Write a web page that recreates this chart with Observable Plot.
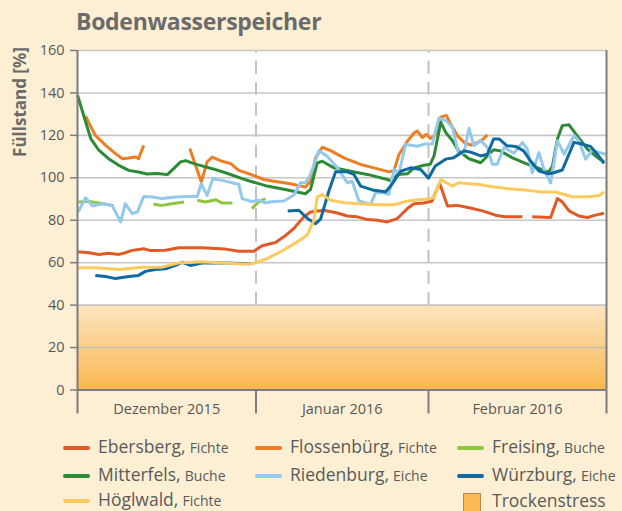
<!DOCTYPE html>
<html>
<head>
<meta charset="utf-8">
<script src="https://cdn.jsdelivr.net/npm/d3@7"></script>
<script src="https://cdn.jsdelivr.net/npm/@observablehq/plot@0.6"></script>
<style>
html, body { margin: 0; padding: 0; background: #fdefd3; }
#wrap { position: relative; width: 622px; height: 511px; overflow: hidden; background: #fdefd3; font-family: "Open Sans", sans-serif; color: #585858; }
#chart { position: absolute; left: 0; top: 0; }
#title { position: absolute; left: 76px; top: 6px; font-size: 23px; font-weight: 700; color: #6b6b6b; line-height: 30px; white-space: nowrap; letter-spacing: -0.3px; }
#ylabel { position: absolute; left: 19px; top: 102px; transform: translate(-50%, -50%) rotate(-90deg); font-size: 17px; font-weight: 700; color: #6b6b6b; white-space: nowrap; }
.item { position: absolute; height: 20px; line-height: 20px; white-space: nowrap; }
.sw { display: inline-block; width: 27px; height: 4px; border-radius: 2px; vertical-align: middle; margin-right: 8px; position: relative; top: -1px; }
.big { font-size: 17.5px; color: #5a5a5a; }
.small { font-size: 14px; color: #5a5a5a; }
.box { display: inline-block; width: 16px; height: 20px; vertical-align: middle; margin: 0 11px 0 6px; border: 1px solid #b98a4a; background: #fbb855; position: relative; top: 1px; }
</style>
</head>
<body>
<div id="wrap">
  <div id="chart"></div>
  <div id="title">Bodenwasserspeicher</div>
  <div id="ylabel">Füllstand [%]</div>
  <div id="legend"></div>
</div>
<script>
// ---- data (x = days since 1 Dec 2015, y = Füllstand %) ----
const seriesNames = ["Ebersberg", "Flossenbürg", "Freising", "Mitterfels", "Riedenburg", "Würzburg", "Höglwald"];
const treeTypes = ["Fichte", "Fichte", "Buche", "Buche", "Eiche", "Eiche", "Fichte"];
const seriesColors = ["#e05a26", "#ee7e22", "#8dc641", "#2d8a36", "#92c9ec", "#10699f", "#fdca5e"];
const monthLabels = ["Dezember 2015", "Januar 2016", "Februar 2016"];
const monthEdges = [0, 31, 62, 91];
const yTicks = [0, 20, 40, 60, 80, 100, 120, 140, 160];
const trockenstress = [{lower: 0, upper: 40, label: "Trockenstress"}];

const ebersberg = [[0,65.2],[2,64.7],[3.7,63.9],[5.4,64.5],[7.2,63.9],[8.3,64.7],[9.5,65.8],[11.5,66.6],[12.7,65.7],[15.3,65.9],[17.6,67],[21.6,67],[25.7,66.4],[28,65.4],[30.6,65.4],[32.1,68],[34.5,69.5],[36,72.2],[37.8,76.1],[39.6,81.6],[40.8,83.9],[43.2,84.7],[45.6,83.4],[47.4,82],[49.2,81.6],[51,80.3],[52.8,80],[54.6,79.2],[56.4,80.8],[58.2,85.5],[59.4,87.8],[61.2,88.1],[62.6,89.1],[63.8,97.5],[65.1,86.7],[66.7,87],[68.6,85.9],[70.8,84.4],[72.9,82.4],[74.5,81.7],[77.3,81.7],[78.1,null],[78.9,81.7],[81.9,81.3],[83,90.2],[83.8,88.6],[84.9,84.4],[86.5,82],[87.9,81.3],[89.2,82.4],[90.6,83.3]];
const flossenbuerg = [[1.4,129],[3.1,120],[4.9,115.3],[6.6,111.4],[7.8,109],[8.9,109.3],[10.1,109.8],[10.6,109],[11.5,115.3],[15,null],[19.5,113.8],[21.5,98],[22.5,107.5],[23.4,109.8],[25.1,107.8],[26.6,106.7],[28,103.5],[29.7,102],[32.4,99.2],[34.8,98.1],[37.2,97.2],[39.9,95.6],[40.8,98.5],[41.7,109.4],[42.9,114.4],[44.4,112.8],[46.8,109.4],[49.8,106.3],[52.2,104.7],[54.9,102.8],[55.8,103.5],[56.7,111],[58.2,117.2],[59.4,121.1],[60,122],[60.9,119],[61.6,120.5],[62.3,118.5],[63.1,119.9],[64,128.6],[64.9,129.4],[65.6,125.4],[66.7,119.9],[67.8,116.7],[68.9,115.4],[70,116.7],[70.8,118],[71.6,120.2]];
const freising = [[0.2,88.6],[2,88.9],[3.7,88.1],[6,87],[6.3,87],[9,null],[13.2,87.5],[14.7,87],[16.4,87.8],[18.5,88.6],[19.5,null],[20.8,89.4],[22.2,88.6],[24,89.7],[25.1,88.1],[26.9,88.1],[28,null],[30.3,85.5],[31.4,88.5],[32.7,90.2]];
const mitterfels = [[0,138.9],[2.3,118.5],[3.7,113],[5.4,109],[7.1,106],[8.9,103.5],[10.6,102.7],[12.1,101.8],[13.8,102],[15.6,101.5],[16.7,104.3],[17.9,107.5],[18.8,108.1],[20.2,106.7],[21.6,105.6],[23.4,104.3],[25.7,102.4],[28.6,99.6],[30,98.4],[33,96.1],[36,94.6],[38.4,93.3],[39.9,92.5],[40.8,94.6],[42,107],[42.9,107.8],[45,104.7],[48,103.1],[51,101.6],[54.6,99.2],[55.5,98.4],[56.4,101.6],[58.2,101.9],[59.4,104.7],[61.2,105.9],[62.3,106.4],[62.9,110.3],[64,126.2],[64.8,121.4],[65.9,117.5],[66.9,112.7],[68.6,109],[70.5,107.1],[71.6,110.3],[72.6,113.2],[73.7,112.7],[75.6,109.5],[77.8,106.8],[79.7,104.8],[81.6,102.7],[82.2,105.6],[83,118.3],[83.8,124.6],[84.9,125],[86.2,119.9],[87.9,113.5],[89.2,110.3],[90.6,107.5]];
const riedenburg = [[0.1,83.9],[1.4,90.6],[2.6,86.7],[4.3,87.8],[6,87],[7.5,79.2],[8.3,87.8],[9.5,83.1],[10.4,83.9],[11.5,91.2],[13,91],[14.7,90.2],[17,91],[19.3,91.2],[20.8,91.2],[21.5,97.3],[22.5,91.7],[23.5,99.6],[25.1,98.8],[27.4,97.3],[28,97],[28.6,90.2],[30.3,88.8],[31.5,89.5],[32.5,88.3],[34.2,88.8],[36,89.1],[37.8,91.9],[39,97.7],[39.9,97.7],[40.8,101.6],[42.3,112.8],[43.8,110.2],[45.6,104.7],[47.4,97.7],[48.3,98.4],[49.5,89.1],[51.6,87.5],[52.5,93],[53.7,93],[54.9,92.2],[55.8,103.9],[56.7,102.3],[57.9,115.7],[60,114.9],[61.2,115.9],[62.6,115.9],[63.7,128.1],[64.8,127],[65.9,123.8],[66.9,111.1],[67.8,111.9],[68.6,123.3],[69.4,115.1],[70.5,117.5],[71.6,114.3],[72.4,106.4],[73.2,106.4],[74.3,114.3],[75.9,111.6],[77.3,116.7],[78.1,113.5],[78.9,102.4],[80,111.9],[80.8,104],[81.9,97.6],[83,117.5],[84.1,111.1],[85.7,119.9],[86.5,117.5],[87.6,108.8],[88.7,113.2],[89.8,111.9],[90.9,111.1]];
const wuerzburg = [[3.1,54],[4.9,53.5],[6.6,52.5],[8.9,53.5],[10.6,54],[11.8,55.9],[13.5,56.8],[15.3,57.1],[17,58.7],[18.2,60.2],[19.6,58.7],[21.6,59.8],[25.7,59.8],[30,59.5],[33,null],[36.7,84.4],[38.7,84.7],[40.2,81],[41.7,78.4],[42.6,80.5],[44.1,93.8],[45.3,102.8],[47.4,102.8],[48.6,101.6],[49.8,96.1],[52.2,94.1],[54.3,93.4],[55.2,96.1],[57,103.1],[58.8,104.7],[60.6,103.9],[62,99.8],[63.1,105.6],[64.8,108.8],[66.1,109.5],[67.8,112.7],[69.1,111.9],[70.5,110.3],[71.6,111.1],[72.6,118.3],[73.5,118.3],[74.8,115.1],[76.2,114.8],[77.5,112.7],[78.6,108],[80,103.2],[81.6,101.9],[82.4,102.4],[83.8,103.7],[85.7,116.7],[87,115.9],[88.4,114.8],[89.5,111.1],[90.6,106.8]];
const hoeglwald = [[0.1,57.6],[3.1,57.6],[7.2,56.8],[11.2,57.9],[14.7,57.9],[17.6,59.9],[21.6,60.4],[25.1,59.9],[28.6,59.4],[30.3,59.5],[32.7,61.6],[35.7,65.5],[38.4,69.8],[40.2,73],[41.4,80],[42,90.9],[42.9,92.2],[44.4,89.4],[46.8,88.3],[49.8,87.8],[52.8,87.3],[55.8,87.3],[58.2,89],[60,89.7],[61.5,89.9],[62.9,90.6],[64,99.2],[65.9,96.1],[66.9,97.7],[70.2,96.9],[72.4,95.8],[75.1,94.8],[77.8,94.2],[80.5,93.3],[82.7,93.3],[85.4,91.1],[88.1,91.1],[89.8,91.7],[90.6,93.3]];

const seriesData = {
  "Ebersberg": ebersberg, "Flossenbürg": flossenbuerg, "Freising": freising,
  "Mitterfels": mitterfels, "Riedenburg": riedenburg, "Würzburg": wuerzburg, "Höglwald": hoeglwald
};
const drawOrder = ["Ebersberg", "Flossenbürg", "Mitterfels", "Freising", "Riedenburg", "Würzburg", "Höglwald"];
const rows = drawOrder.flatMap(name => seriesData[name].map(([day, value]) => ({series: name, day, value})));
const months = monthLabels.map((label, i) => ({label, mid: (monthEdges[i] + monthEdges[i + 1]) / 2}));

const svg = Plot.plot({
  width: 622,
  height: 425,
  marginLeft: 77,
  marginRight: 16,
  marginTop: 50,
  marginBottom: 35.5,
  style: {background: "transparent", fontFamily: "'Open Sans', sans-serif", fontSize: "14.5px", color: "#585858", overflow: "visible"},
  x: {type: "linear", domain: monthEdges, range: [77, 255.5, 428, 606], axis: null},
  y: {domain: [0, 160], axis: null},
  color: {domain: seriesNames, range: seriesColors},
  marks: [
    Plot.frame({fill: "white", stroke: null}),
    Plot.rect(trockenstress, {x1: () => monthEdges[0], x2: () => monthEdges[monthEdges.length - 1], y1: "lower", y2: "upper", fill: "url(#bandGrad)"}),
    Plot.ruleY(yTicks.slice(1), {stroke: "#bdbdbd", strokeWidth: 1.6, strokeOpacity: 0.85}),
    Plot.ruleX(monthEdges.slice(1, -1), {y1: trockenstress[0].upper, y2: yTicks[yTicks.length - 1], stroke: "#c2c2c2", strokeWidth: 2, strokeDasharray: "13,8"}),
    Plot.line(rows, {x: "day", y: "value", z: "series", stroke: "series", strokeWidth: 3, strokeLinejoin: "round", strokeLinecap: "butt"}),
    Plot.ruleY([0], {stroke: "#7d7d7d", strokeWidth: 2}),
    Plot.ruleX([monthEdges[0], monthEdges[monthEdges.length - 1]], {stroke: "#7d7d7d", strokeWidth: 2}),
    Plot.axisY({ticks: yTicks, tickSize: 7, tickPadding: 6, stroke: "#7d7d7d", strokeWidth: 1.5, fill: "#585858", fontSize: 14.5, label: null}),
    Plot.axisX({ticks: monthEdges, tickSize: 24, tickFormat: () => "", stroke: "#7d7d7d", strokeWidth: 2, label: null}),
    Plot.text(months, {x: "mid", text: "label", frameAnchor: "bottom", dy: 19, lineAnchor: "middle", fill: "#585858", fontSize: 14.5})
  ]
});

const defs = document.createElementNS("http://www.w3.org/2000/svg", "defs");
defs.innerHTML = '<linearGradient id="bandGrad" x1="0" y1="0" x2="0" y2="1"><stop offset="0" stop-color="#fde5c1"/><stop offset="1" stop-color="#fbb751"/></linearGradient>';
svg.insertBefore(defs, svg.firstChild);
document.getElementById("chart").appendChild(svg);

// ---- legend ----
const legend = document.getElementById("legend");
const colLeft = [63, 255, 457];
const rowMid = [446, 474, 499];
const legendOrder = ["Ebersberg", "Flossenbürg", "Freising", "Mitterfels", "Riedenburg", "Würzburg", "Höglwald"];
legendOrder.forEach((name, k) => {
  const i = seriesNames.indexOf(name);
  const el = document.createElement("div");
  el.className = "item";
  el.style.left = colLeft[k % 3] + "px";
  el.style.top = (rowMid[Math.floor(k / 3)] - 10) + "px";
  el.innerHTML = `<span class="sw" style="background:${seriesColors[i]}"></span><span class="big">${name},</span> <span class="small">${treeTypes[i]}</span>`;
  legend.appendChild(el);
});
const ts = document.createElement("div");
ts.className = "item";
ts.style.left = colLeft[2] + "px";
ts.style.top = (rowMid[2] - 9) + "px";
ts.innerHTML = `<span class="box"></span><span class="big">${trockenstress[0].label}</span>`;
legend.appendChild(ts);
</script>
</body>
</html>
